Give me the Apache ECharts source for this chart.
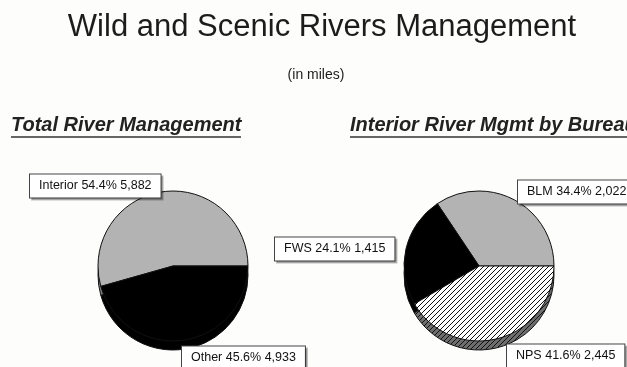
<!DOCTYPE html>
<html>
<head>
<meta charset="utf-8">
<script src="https://cdn.jsdelivr.net/npm/echarts@6/dist/echarts.min.js"></script>
<style>
  html, body { margin: 0; padding: 0; background: #fdfdfc; }
  #chart { width: 627px; height: 367px; }
</style>
</head>
<body>
<div id="chart"></div>
<script>
// River miles by managing group, and the Interior share split by bureau
const totalNames = ['Interior', 'Other'];
const totalMiles = [5882, 4933];
const bureauNames = ['BLM', 'FWS', 'NPS'];
const bureauMiles = [2022, 1415, 2445];

const FONT = '"Liberation Sans", Arial, sans-serif';

// diagonal hatch fill used for the NPS slice
function hatch(bg, line) {
  const size = 5;
  const c = document.createElement('canvas');
  c.width = size; c.height = size;
  const g = c.getContext('2d');
  g.fillStyle = bg;
  g.fillRect(0, 0, size, size);
  g.strokeStyle = line;
  g.lineWidth = 1;
  g.beginPath();
  for (let k = -size; k <= size; k += size) {
    g.moveTo(k, size);
    g.lineTo(k + size, 0);
  }
  g.stroke();
  return { image: c, repeat: 'repeat' };
}

function withCommas(v) {
  return String(v).replace(/\B(?=(\d{3})+(?!\d))/g, ',');
}

function sum(arr) { return arr.reduce((a, b) => a + b, 0); }

function toData(names, values, colors) {
  return names.map((n, i) => ({ name: n, value: values[i], itemStyle: { color: colors[i] } }));
}

const GRAY = '#b3b3b3';
const GRAY_SIDE = '#7d7d7d';
const topColors = { total: [GRAY, '#000'], bureau: [GRAY, '#000', hatch('#ffffff', '#111')] };
const sideColors = { total: [GRAY_SIDE, '#000'], bureau: [GRAY_SIDE, '#000', hatch('#6e6e6e', '#111')] };

const R = 75;
const CY = 266;
const DEPTH = 9;
const LEFT_X = 173;
const RIGHT_X = 479;

// label boxes: left edge x and vertical middle y for each slice
const labelSpots = {
  2: [{ x: 30, y: 186 }, { x: 182, y: 358 }],
  3: [{ x: 518, y: 192 }, { x: 275, y: 249 }, { x: 507, y: 356 }]
};

function labelFormatter(values) {
  const total = sum(values);
  return p => p.name + ' ' + (p.value / total * 100).toFixed(1) + '% ' + withCommas(p.value);
}

const labelStyle = {
  show: true,
  fontFamily: FONT,
  fontSize: 12.5,
  color: '#111',
  backgroundColor: '#ffffff',
  borderColor: '#444',
  borderWidth: 1,
  padding: [5, 9],
  lineHeight: 13,
  shadowColor: 'rgba(0,0,0,0.25)',
  shadowOffsetX: 2,
  shadowOffsetY: 2,
  shadowBlur: 0
};

function sidePie(cx, names, values, colors) {
  return {
    type: 'pie',
    silent: true,
    animation: false,
    center: [cx, CY + DEPTH],
    radius: R,
    startAngle: 0,
    clockwise: false,
    label: { show: false },
    labelLine: { show: false },
    itemStyle: { borderColor: '#111', borderWidth: 1 },
    z: 1,
    data: toData(names, values, colors)
  };
}

function topPie(seriesIdx, cx, names, values, colors) {
  return {
    type: 'pie',
    animation: false,
    center: [cx, CY],
    radius: R,
    startAngle: 0,
    clockwise: false,
    avoidLabelOverlap: false,
    itemStyle: { borderColor: '#111', borderWidth: 1 },
    label: Object.assign({ formatter: labelFormatter(values) }, labelStyle),
    labelLine: { show: false },
    labelLayout: p => {
      const s = labelSpots[seriesIdx][p.dataIndex];
      return { x: s.x, y: s.y, align: 'left', verticalAlign: 'middle' };
    },
    z: 2,
    data: toData(names, values, colors)
  };
}

const chart = echarts.init(document.getElementById('chart'), null, { renderer: 'canvas' });

chart.setOption({
  backgroundColor: '#fdfdfc',
  graphic: [
    { type: 'text', x: 322, y: 27, style: { text: 'Wild and Scenic Rivers Management', font: '31px ' + FONT, fill: '#1c1c1c', align: 'center', verticalAlign: 'middle' } },
    { type: 'text', x: 316, y: 75, style: { text: '(in miles)', font: '14px ' + FONT, fill: '#1c1c1c', align: 'center', verticalAlign: 'middle' } },
    { type: 'text', x: 11, y: 125, style: { text: 'Total River Management', font: 'italic bold 20px ' + FONT, fill: '#222', align: 'left', verticalAlign: 'middle' } },
    { type: 'line', shape: { x1: 11, y1: 137, x2: 241, y2: 137 }, style: { stroke: '#333', lineWidth: 1.5 } },
    { type: 'text', x: 350, y: 125, style: { text: 'Interior River Mgmt by Bureau', font: 'italic bold 20px ' + FONT, fill: '#222', align: 'left', verticalAlign: 'middle' } },
    { type: 'line', shape: { x1: 350, y1: 137, x2: 627, y2: 137 }, style: { stroke: '#333', lineWidth: 1.5 } }
  ],
  series: [
    sidePie(LEFT_X, totalNames, totalMiles, sideColors.total),
    sidePie(RIGHT_X, bureauNames, bureauMiles, sideColors.bureau),
    topPie(2, LEFT_X, totalNames, totalMiles, topColors.total),
    topPie(3, RIGHT_X, bureauNames, bureauMiles, topColors.bureau)
  ]
});
</script>
</body>
</html>
